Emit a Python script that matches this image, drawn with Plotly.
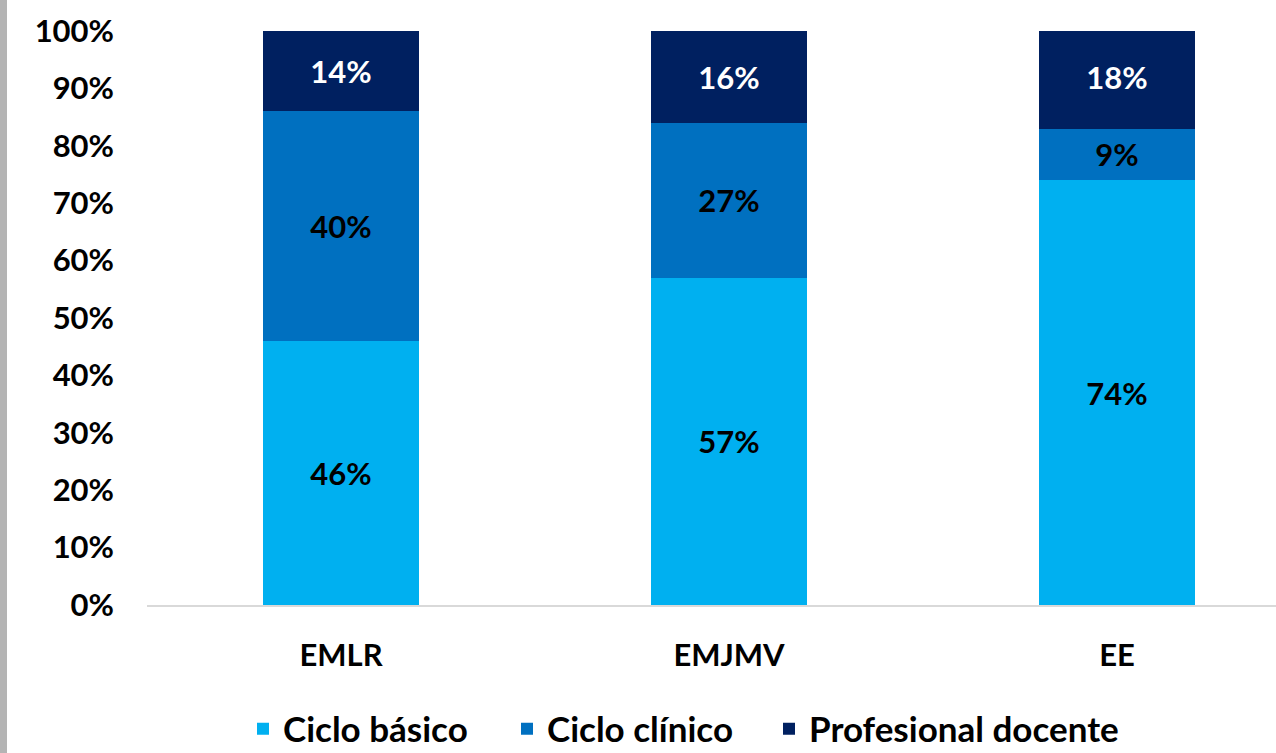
import plotly.graph_objects as go

# Distribución porcentual por escuela
escuelas = ["EMLR", "EMJMV", "EE"]
ciclo_basico = [46, 57, 74]
ciclo_clinico = [40, 27, 9]
profesional_docente = [14, 16, 18]
y_ticks = [0, 10, 20, 30, 40, 50, 60, 70, 80, 90, 100]

W, H = 1276, 753
ML, MR, MT, MB = 147, 0, 31, 148
plot_w = W - ML - MR
plot_h = H - MT - MB

FONT = "Lato"
BLACK = "#000000"

series = [
    ("Ciclo básico", ciclo_basico, "#00B0F0", BLACK, "legend"),
    ("Ciclo clínico", ciclo_clinico, "#0070C0", BLACK, "legend2"),
    ("Profesional docente", profesional_docente, "#002060", "#FFFFFF", "legend3"),
]

fig = go.Figure()
for name, vals, color, tcolor, leg in series:
    fig.add_trace(go.Bar(
        name=name,
        x=escuelas,
        y=vals,
        width=0.4,
        legend=leg,
        marker=dict(color=color, line=dict(width=0)),
        text=[f"{v}%" for v in vals],
        textposition="inside",
        insidetextanchor="middle",
        textangle=0,
        textfont=dict(family=FONT, size=31, color=tcolor, weight="bold"),
        constraintext="none",
        hoverinfo="skip",
    ))

# category pitch in pixels is 388; the plot is cut on the right side
cat_px = 388
x_max = -0.5 + plot_w / cat_px


def legend_at(px_left, py_mid):
    return dict(
        orientation="h",
        x=(px_left - ML) / plot_w,
        xanchor="left",
        y=(H - MB - py_mid) / plot_h,
        yanchor="middle",
        font=dict(family=FONT, size=35, color=BLACK, weight="bold"),
        bgcolor="rgba(0,0,0,0)",
        itemclick=False,
        itemdoubleclick=False,
    )


LEG_Y = 729

fig.update_layout(
    barmode="stack",
    width=W,
    height=H,
    margin=dict(l=ML, r=MR, t=MT, b=MB, pad=0, autoexpand=False),
    paper_bgcolor="#FFFFFF",
    plot_bgcolor="#FFFFFF",
    uniformtext=dict(minsize=8, mode=False),
    xaxis=dict(
        range=[-0.5, x_max],
        showgrid=False,
        showline=True,
        linecolor="#D9D9D9",
        linewidth=2,
        ticks="",
        tickfont=dict(family=FONT, size=31, color=BLACK, weight="bold"),
        ticklabelstandoff=22,
        fixedrange=True,
    ),
    yaxis=dict(
        range=[0, 100],
        tickvals=y_ticks,
        ticktext=[f"{v}%" for v in y_ticks],
        showgrid=False,
        showline=False,
        zeroline=False,
        ticks="",
        tickfont=dict(family=FONT, size=31, color=BLACK, weight="bold"),
        ticklabelstandoff=32,
        fixedrange=True,
    ),
    showlegend=True,
    legend=legend_at(243, LEG_Y),
    legend2=legend_at(507, LEG_Y),
    legend3=legend_at(769, LEG_Y),
    shapes=[
        dict(
            type="rect",
            xref="paper", yref="paper",
            x0=-ML / plot_w, x1=(7 - ML) / plot_w,
            y0=-MB / plot_h, y1=1 + MT / plot_h,
            fillcolor="#B4B4B4",
            line=dict(width=0),
            layer="above",
        )
    ],
)

fig.write_html("out.html", config={"displayModeBar": False})
